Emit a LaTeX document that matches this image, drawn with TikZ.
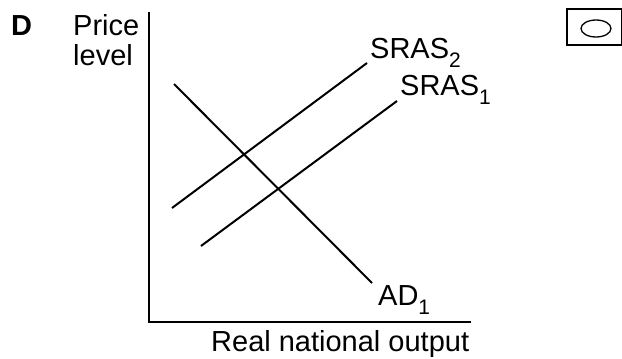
\documentclass[tikz,border=0pt]{standalone}
\usepackage{fontspec}
\setmainfont{Liberation Sans}
\newcommand{\mysub}[1]{\raisebox{-9pt}{\fontsize{21}{22}\selectfont #1}}
\begin{document}
\begin{tikzpicture}[x=1pt,y=-1pt,
  txt/.style={inner sep=0pt, anchor=base west, font=\fontsize{29}{31}\selectfont},
  curve/.style={line width=2pt},
  axis/.style={line width=2pt}]
\useasboundingbox (0,0) rectangle (622,359);
% labels
\node[txt, font=\fontsize{29}{31}\selectfont\bfseries] (D) at (11,35) {D};
\node[txt] (price) at (73,35) {Price};
\node[txt] (level) at (73,65) {level};
\node[txt] (xlab) at (211,351) {Real national output};
% axes
\coordinate (top) at (149,12);
\coordinate (origin) at (149,322);
\coordinate (right) at (471,322);
\draw[axis] (top) -- (origin) -- (right);
% curves
\coordinate (ad0) at (174,84);
\coordinate (ad1) at (372,283);
\coordinate (s2a) at (172,208);
\coordinate (s2b) at (367,63);
\coordinate (s1a) at (201,246);
\coordinate (s1b) at (397,101);
\draw[curve] (ad0) -- (ad1);
\draw[curve] (s2a) -- (s2b);
\draw[curve] (s1a) -- (s1b);
\node[txt] (lad) at (378,305) {AD\mysub{1}};
\node[txt] (ls2) at (370,58) {SRAS\mysub{2}};
\node[txt] (ls1) at (400,95) {SRAS\mysub{1}};
% key box
\draw[line width=1.3pt] (621.4,9) -- (567,9) -- (567,45) -- (621.4,45) -- cycle;
\draw[line width=1.3pt] (596,28.5) ellipse [x radius=15, y radius=8.5];
\end{tikzpicture}
\end{document}
